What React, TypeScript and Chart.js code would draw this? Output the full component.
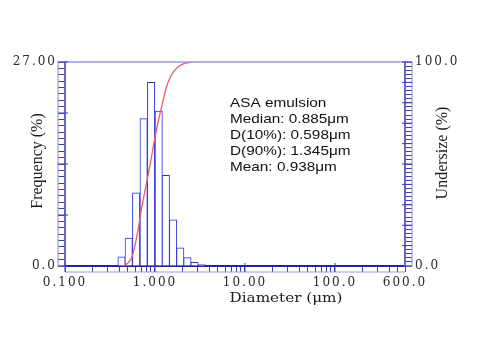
import React, { useEffect, useRef } from 'react';
import { Chart, registerables } from 'chart.js';

Chart.register(...registerables);

// Histogram: size-class centres (µm) and frequency (%)
const binCenters = [0.425, 0.51, 0.617, 0.748, 0.905, 1.1, 1.32, 1.59, 1.91, 2.29, 2.75, 3.3];
const frequency = [1.2, 3.7, 9.7, 19.5, 24.3, 20.5, 12.0, 6.1, 2.4, 1.1, 0.5, 0.2];

// Cumulative undersize curve
const curveDiameter = [0.45, 0.5, 0.55, 0.598, 0.65, 0.72, 0.8, 0.885, 1.0, 1.1, 1.2, 1.345, 1.5, 1.7, 2.0, 2.4, 2.66];
const undersize = [0, 1.5, 4, 10, 18, 30, 40, 50, 63, 72, 79, 88, 93, 96.5, 98.8, 99.8, 100];

// Tick labels
const xLabelValues = [0.1, 1, 10, 100, 600];
const xLabelTexts = ['0.100', '1.000', '10.00', '100.0', '600.0'];
const leftLabelValues = [0, 27];
const leftLabelTexts = ['0.0', '27.00'];
const rightLabelValues = [0, 100];
const rightLabelTexts = ['0.0', '100.0'];

const statsLines = ['ASA emulsion', 'Median: 0.885μm', 'D(10%): 0.598μm', 'D(90%): 1.345μm', 'Mean: 0.938μm'];
const xTitle = 'Diameter (μm)';
const yTitle = 'Frequency (%)';
const y2Title = 'Undersize (%)';

const LEFT_MAX = 27;
const RIGHT_MAX = 100;

const tickColor = '#3a3ac0';
const axisColor = '#2020a8';
const frameColor = '#9898dc';
const barColor = '#2f2fe0';
const curveColor = '#f05a66';
const labelColor = '#2a2a2a';

function labelFor(values: number[], texts: string[], v: number): string {
  for (let i = 0; i < values.length; i++) {
    if (Math.abs(v - values[i]) <= 1e-6 * Math.max(1, values[i])) return texts[i];
  }
  return '';
}

const xTicks: number[] = [];
for (let e = -1; e <= 2; e++) {
  for (let k = 1; k <= 9; k++) {
    const v = k * Math.pow(10, e);
    if (v <= 600 + 1e-9) xTicks.push(v);
  }
}
const leftTicks: number[] = [];
for (let i = 0; i <= 32; i++) leftTicks.push((LEFT_MAX * i) / 32);
const rightTicks: number[] = [];
for (let i = 0; i <= 50; i++) rightTicks.push(i * 2);

const leftMajor = [0, 6.75, 13.5, 20.25, 27];
const rightMajor = [0, 10, 20, 30, 40, 50, 60, 70, 80, 90, 100];
const xMajor = [0.1, 1, 10, 100];

const tickFont = { family: '"DejaVu Serif", serif', size: 12 };

const decorPlugin = {
  id: 'decor',
  beforeDraw(chart: any) {
    (chart.ctx as any).letterSpacing = '2px';
  },
  afterDraw(chart: any) {
    const ctx = chart.ctx as CanvasRenderingContext2D;
    const a = chart.chartArea;
    const sc = chart.scales;
    ctx.save();
    (ctx as any).letterSpacing = '0px';
    const line = (x1: number, y1: number, x2: number, y2: number) => {
      ctx.beginPath();
      ctx.moveTo(x1, y1);
      ctx.lineTo(x2, y2);
      ctx.stroke();
    };
    // frame
    ctx.strokeStyle = frameColor;
    ctx.lineWidth = 1.5;
    line(a.left, a.top, a.right, a.top);
    ctx.lineWidth = 1.2;
    ctx.strokeRect(a.left - 7, a.top, 7, a.bottom - a.top);
    ctx.strokeRect(a.right, a.top, 7, a.bottom - a.top);
    line(a.left, a.bottom + 6, a.right, a.bottom + 6);
    // major ticks
    ctx.strokeStyle = tickColor;
    ctx.lineWidth = 1;
    leftMajor.forEach((v) => {
      const y = sc.y.getPixelForValue(v);
      line(a.left - 7, y, a.left + 3, y);
    });
    rightMajor.forEach((v) => {
      const y = sc.y2.getPixelForValue(v);
      line(a.right - 3, y, a.right + 7, y);
    });
    xMajor.forEach((v) => {
      const x = sc.x.getPixelForValue(v);
      line(x, a.bottom - 3, x, a.bottom + 6);
    });
    // axis titles
    ctx.fillStyle = '#1a1a1a';
    ctx.textAlign = 'center';
    ctx.textBaseline = 'middle';
    ctx.font = '16px "Liberation Serif", serif';
    const midY = (a.top + a.bottom) / 2;
    ctx.save();
    ctx.translate(a.left - 27, midY - 3);
    ctx.rotate(-Math.PI / 2);
    ctx.fillText(yTitle, 0, 0);
    ctx.restore();
    ctx.save();
    ctx.translate(a.right + 38, midY - 11);
    ctx.rotate(-Math.PI / 2);
    ctx.fillText(y2Title, 0, 0);
    ctx.restore();
    ctx.font = '13px "DejaVu Serif", serif';
    ctx.save();
    ctx.translate(a.left + 221, a.bottom + 33);
    ctx.scale(1.17, 1);
    ctx.fillText(xTitle, 0, 0);
    ctx.restore();
    // stats box text
    ctx.font = '13px "Liberation Sans", Arial, sans-serif';
    ctx.textAlign = 'left';
    ctx.textBaseline = 'alphabetic';
    ctx.fillStyle = '#111';
    statsLines.forEach((t, i) => {
      ctx.save();
      ctx.translate(a.left + 165, a.top + 45.3 + i * 15.85);
      ctx.scale(1.18, 1);
      ctx.fillText(t, 0, 0);
      ctx.restore();
    });
    ctx.restore();
    (ctx as any).letterSpacing = '0px';
  },
};

export default function App() {
  const canvasRef = useRef<HTMLCanvasElement | null>(null);

  useEffect(() => {
    document.body.style.margin = '0';
    const canvas = canvasRef.current;
    if (!canvas) return;
    const chart = new Chart(canvas, {
      type: 'bar',
      data: {
        datasets: [
          {
            type: 'line',
            label: 'Undersize',
            data: curveDiameter.map((d, i) => ({ x: d, y: undersize[i] })),
            xAxisID: 'x',
            yAxisID: 'y2',
            borderColor: curveColor,
            borderWidth: 1.3,
            pointRadius: 0,
            fill: false,
            cubicInterpolationMode: 'monotone',
            order: 0,
          } as any,
          {
            type: 'bar',
            label: 'Frequency',
            data: binCenters.map((c, i) => ({ x: c, y: frequency[i] })),
            xAxisID: 'x',
            yAxisID: 'y',
            backgroundColor: '#ffffff',
            borderColor: barColor,
            borderWidth: 1,
            barThickness: 7.4,
            order: 1,
          } as any,
        ],
      },
      options: {
        animation: false,
        responsive: true,
        maintainAspectRatio: false,
        devicePixelRatio: 1,
        layout: { padding: { top: 62, left: 0, right: 0, bottom: 0 } },
        plugins: {
          legend: { display: false },
          tooltip: { enabled: false },
          title: { display: false },
        },
        scales: {
          x: {
            type: 'logarithmic',
            min: 0.1,
            max: 600,
            offset: false,
            afterBuildTicks: (s: any) => {
              s.ticks = xTicks.map((v) => ({ value: v }));
            },
            afterFit: (s: any) => {
              s.height = 94;
            },
            grid: { drawOnChartArea: false, offset: false, tickLength: 6, color: tickColor, lineWidth: 1 },
            border: { display: true, color: axisColor, width: 2 },
            ticks: {
              autoSkip: false,
              maxRotation: 0,
              minRotation: 0,
              padding: 4,
              color: labelColor,
              font: tickFont,
              callback: (v: any) => labelFor(xLabelValues, xLabelTexts, Number(v)),
            },
          } as any,
          y: {
            type: 'linear',
            position: 'left',
            min: 0,
            max: LEFT_MAX,
            afterBuildTicks: (s: any) => {
              s.ticks = leftTicks.map((v) => ({ value: v }));
            },
            afterFit: (s: any) => {
              s.width = 65;
            },
            grid: { drawOnChartArea: false, tickLength: 7, color: tickColor, lineWidth: 1 },
            border: { display: true, color: axisColor, width: 2 },
            ticks: {
              autoSkip: false,
              padding: 1,
              color: labelColor,
              font: tickFont,
              callback: (v: any) => labelFor(leftLabelValues, leftLabelTexts, Number(v)),
            },
          } as any,
          y2: {
            type: 'linear',
            position: 'right',
            min: 0,
            max: RIGHT_MAX,
            afterBuildTicks: (s: any) => {
              s.ticks = rightTicks.map((v) => ({ value: v }));
            },
            afterFit: (s: any) => {
              s.width = 75;
            },
            grid: { drawOnChartArea: false, tickLength: 7, color: tickColor, lineWidth: 1 },
            border: { display: true, color: axisColor, width: 2 },
            ticks: {
              autoSkip: false,
              padding: 3,
              color: labelColor,
              font: tickFont,
              callback: (v: any) => labelFor(rightLabelValues, rightLabelTexts, Number(v)),
            },
          } as any,
        },
      },
      plugins: [decorPlugin],
    });
    return () => {
      chart.destroy();
    };
  }, []);

  return (
    <div style={{ position: 'relative', width: 480, height: 360, background: '#ffffff' }}>
      <canvas ref={canvasRef} />
    </div>
  );
}
